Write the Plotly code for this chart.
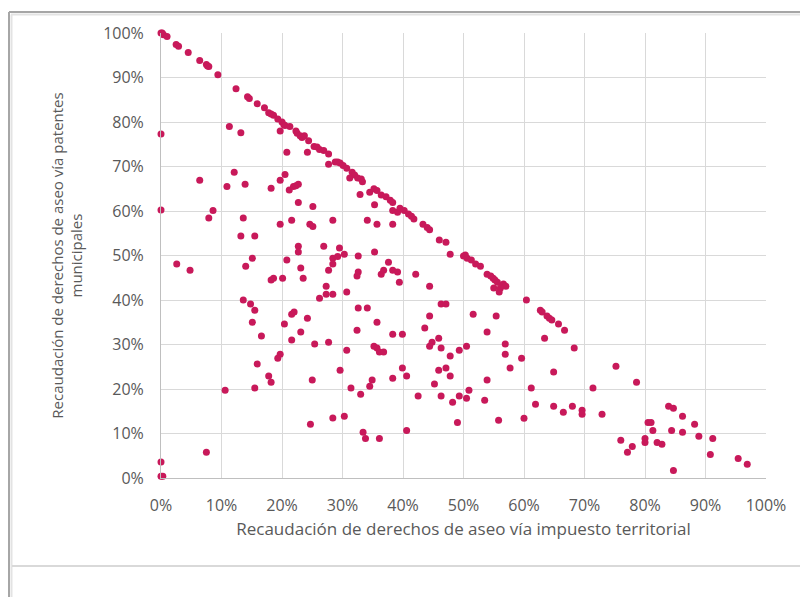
import plotly.graph_objects as go

# Data (percent values)
impuesto_territorial = [
    0, 0.2, 0.4, 1.0, 2.5, 2.9, 4.5, 6.4, 7.5, 7.7, 7.9, 9.4, 12.4, 14.3, 14.6, 15.9,
    17.1, 17.8, 18.2, 18.6, 19.3, 20.0, 20.3, 20.5, 19.7, 21.3, 22.3, 22.5, 23.0, 23.3,
    23.7, 24.4, 25.3, 25.8, 26.2, 26.9, 27.7, 27.7, 28.8, 29.2, 29.6, 30.1, 30.7, 31.6,
    32.0, 31.2, 32.5, 33.1, 33.3, 32.9, 34.5, 35.2, 35.7, 35.3, 36.4, 37.2, 37.9, 38.3,
    38.3, 39.1, 39.5, 40.2, 40.9, 41.4, 41.8, 34.1, 35.7, 38.3, 43.3, 44.0, 44.4, 46.0,
    47.1, 47.8, 50.3, 35.3, 32.6, 50.0, 50.6, 51.3, 52.0, 52.8, 53.9, 54.5, 54.9, 55.2,
    55.6, 56.6, 57.0, 55.0, 55.9, 56.1, 60.4, 62.7, 63.0, 63.8, 64.2, 64.6, 65.7, 66.7,
    63.4, 32.6, 32.4, 37.6, 36.4, 36.8, 38.3, 39.1, 39.4, 42.1, 44.4, 46.3, 47.1, 32.6,
    34.1, 35.7, 32.4, 38.3, 39.9, 44.4, 43.6, 51.6, 55.4, 53.9, 35.2, 35.7, 36.1, 36.8,
    45.9, 44.8, 44.4, 46.3, 47.8, 49.3, 50.5, 56.9, 56.9, 59.6, 57.7, 64.9, 39.9, 38.3,
    40.6, 45.9, 47.1, 47.8, 34.9, 34.5, 33.0, 45.2, 53.9, 42.5, 46.3, 48.2, 49.3, 50.5,
    50.9, 53.5, 61.2, 61.9, 64.9, 66.5, 49.0, 55.8, 60.0, 40.6, 33.4, 33.8, 36.1, 68.3,
    75.2, 78.6, 71.4, 68.0, 69.6, 69.6, 72.9, 83.9, 84.7, 86.2, 88.2, 80.5, 81.0, 81.3,
    84.4, 86.2, 88.9, 91.2, 76.0, 77.9, 77.1, 80.0, 80.0, 82.0, 82.8, 90.8, 95.4, 96.9,
    84.7, 0, 0, 11.3, 13.2, 20.8, 24.2, 6.4, 12.1, 10.9, 13.9, 18.2, 19.7, 20.5, 21.2,
    21.9, 22.3, 22.7, 22.7, 25.1, 8.6, 7.9, 13.6, 19.7, 21.6, 24.6, 25.1, 28.4, 13.2,
    15.5, 22.7, 22.7, 26.9, 29.5, 30.3, 2.6, 4.8, 15.1, 14.0, 20.8, 23.1, 23.5, 18.2,
    18.6, 20.1, 28.4, 29.2, 28.4, 27.7, 27.3, 27.3, 28.4, 26.2, 30.7, 13.6, 14.8, 15.5,
    15.1, 16.6, 21.6, 22.0, 24.2, 20.4, 23.1, 21.6, 25.4, 27.7, 30.7, 19.7, 19.3, 15.9,
    17.8, 18.2, 15.5, 25.0, 29.6, 31.4, 10.6, 24.7, 28.4, 30.3, 7.5, 0, 0, 0.3,
]
patentes_municipales = [
    100, 100, 99.6, 99.2, 97.4, 97.0, 95.6, 93.8, 92.9, 92.6, 92.5, 90.6, 87.5, 85.7, 85.3, 84.1,
    83.2, 82.1, 81.8, 81.5, 80.7, 80.0, 79.4, 79.2, 78.0, 79.0, 78.0, 77.5, 76.9, 76.5,
    76.9, 75.8, 74.5, 74.4, 73.8, 73.6, 72.8, 70.5, 71.0, 71.0, 70.8, 70.2, 69.6, 68.7,
    68.1, 67.4, 67.4, 67.2, 66.6, 63.7, 64.2, 65.0, 64.6, 61.4, 63.6, 63.2, 62.4, 61.9,
    60.1, 59.7, 60.6, 60.1, 59.3, 58.8, 58.2, 57.9, 57.0, 57.0, 57.0, 56.3, 55.8, 53.5,
    53.0, 50.3, 50.1, 50.8, 49.9, 49.9, 49.4, 49.0, 48.1, 47.6, 45.8, 45.4, 44.9, 44.5,
    44.0, 43.6, 43.1, 42.7, 41.8, 42.7, 40.0, 37.7, 37.3, 36.4, 35.9, 35.5, 34.6, 33.2,
    31.4, 46.3, 45.4, 48.5, 45.8, 46.7, 46.7, 46.3, 44.0, 45.8, 43.1, 39.1, 39.1, 38.2,
    38.2, 35.0, 33.2, 32.3, 32.3, 36.4, 33.7, 36.8, 36.4, 32.8, 29.6, 29.2, 28.3, 28.3,
    31.4, 30.5, 29.6, 29.2, 27.4, 28.7, 29.6, 30.1, 27.8, 26.9, 24.7, 23.8, 24.7, 22.4,
    22.9, 24.2, 24.7, 22.9, 22.0, 20.6, 18.8, 21.1, 22.0, 18.4, 18.4, 17.0, 18.4, 17.9,
    19.7, 17.5, 20.2, 16.6, 16.1, 14.8, 12.5, 13.0, 13.4, 10.7, 10.3, 8.9, 8.9, 29.2,
    25.1, 21.5, 20.2, 16.1, 15.2, 14.3, 14.3, 16.1, 15.7, 13.9, 12.1, 12.5, 12.5, 10.7,
    10.7, 10.3, 9.4, 8.9, 8.5, 7.1, 5.8, 8.9, 8.0, 8.0, 7.6, 5.3, 4.4, 3.1,
    1.7, 77.3, 60.2, 79.0, 77.6, 73.2, 73.2, 66.9, 68.7, 65.5, 66.0, 65.1, 66.9, 68.2, 64.7,
    65.5, 65.7, 66.0, 61.9, 61.0, 60.1, 58.4, 58.4, 57.0, 57.9, 57.0, 56.5, 57.9, 54.4,
    54.4, 52.1, 50.8, 52.1, 51.7, 50.3, 48.1, 46.7, 49.4, 47.6, 49.0, 47.2, 44.9, 44.5,
    44.9, 44.9, 49.4, 49.8, 48.1, 46.7, 43.1, 41.3, 41.3, 40.4, 41.8, 40.0, 39.1, 37.7,
    35.0, 31.9, 36.8, 37.3, 35.9, 34.6, 32.8, 31.0, 30.1, 30.5, 28.7, 27.8, 26.9, 25.6,
    22.9, 21.5, 20.2, 22.0, 24.2, 20.2, 19.7, 12.1, 13.5, 13.9, 5.8, 3.6, 0.4, 0.4,
]
tick_values = [0, 10, 20, 30, 40, 50, 60, 70, 80, 90, 100]
tick_labels = [f"{v}%" for v in tick_values]

x_title = "Recaudación de derechos de aseo vía impuesto territorial"
y_title = "Recaudación de derechos de aseo vía patentes<br>municipales"

# The page body has an 8px margin, so the figure is 800x589 placed at (8, 8)
OFF = 8
W, H = 800, 589
L, R, T, B = 153, 42, 25, 119
PW, PH = W - L - R, H - T - B

def px(xpage):
    return (xpage - OFF - L) / PW

def py(ypage):
    return (H - B - (ypage - OFF)) / PH

fig = go.Figure()
fig.add_trace(go.Scatter(
    x=impuesto_territorial,
    y=patentes_municipales,
    mode="markers",
    marker=dict(color="#C8195A", size=7, line=dict(width=0)),
    cliponaxis=False,
    showlegend=False,
    hoverinfo="x+y",
))

font_family = "Open Sans, Lato, sans-serif"
grey = "#595959"

fig.update_xaxes(
    range=[0, 100],
    tickmode="array", tickvals=tick_values, ticktext=tick_labels,
    showgrid=True, gridcolor="#D9D9D9", gridwidth=1,
    showline=True, linecolor="#BFBFBF", linewidth=1,
    zeroline=False, ticks="", ticklabelstandoff=13,
    tickfont=dict(family=font_family, size=16, color=grey),
    title=dict(text=x_title, font=dict(family=font_family, size=17, color=grey), standoff=7),
    automargin=False,
)
fig.update_yaxes(
    range=[0, 100],
    tickmode="array", tickvals=tick_values, ticktext=tick_labels,
    showgrid=True, gridcolor="#D9D9D9", gridwidth=1,
    showline=True, linecolor="#BFBFBF", linewidth=1,
    zeroline=False, ticks="", ticklabelstandoff=13,
    tickfont=dict(family=font_family, size=16, color=grey),
    title=dict(text=y_title, font=dict(family=font_family, size=15, color=grey), standoff=16),
    automargin=False,
)

shapes = [
    # outer chart border (top and left), with lighter inner edge
    dict(type="line", xref="paper", yref="paper", x0=px(9), x1=px(812), y0=py(12), y1=py(12),
         line=dict(color="#A6A6A6", width=2)),
    dict(type="line", xref="paper", yref="paper", x0=px(11), x1=px(812), y0=py(14.5), y1=py(14.5),
         line=dict(color="#E3E3E3", width=2)),
    dict(type="line", xref="paper", yref="paper", x0=px(9), x1=px(9), y0=py(12), y1=py(600),
         line=dict(color="#A6A6A6", width=2)),
    dict(type="line", xref="paper", yref="paper", x0=px(11.5), x1=px(11.5), y0=py(14.5), y1=py(600),
         line=dict(color="#E3E3E3", width=2)),
    # lower separator line
    dict(type="line", xref="paper", yref="paper", x0=px(12), x1=px(812), y0=py(566), y1=py(566),
         line=dict(color="#D9D9D9", width=2)),
]

fig.update_layout(
    width=W, height=H,
    margin=dict(l=L, r=R, t=T, b=B, pad=0),
    paper_bgcolor="white", plot_bgcolor="white",
    shapes=shapes,
    font=dict(family=font_family, color=grey),
)

fig.write_html("out.html")
